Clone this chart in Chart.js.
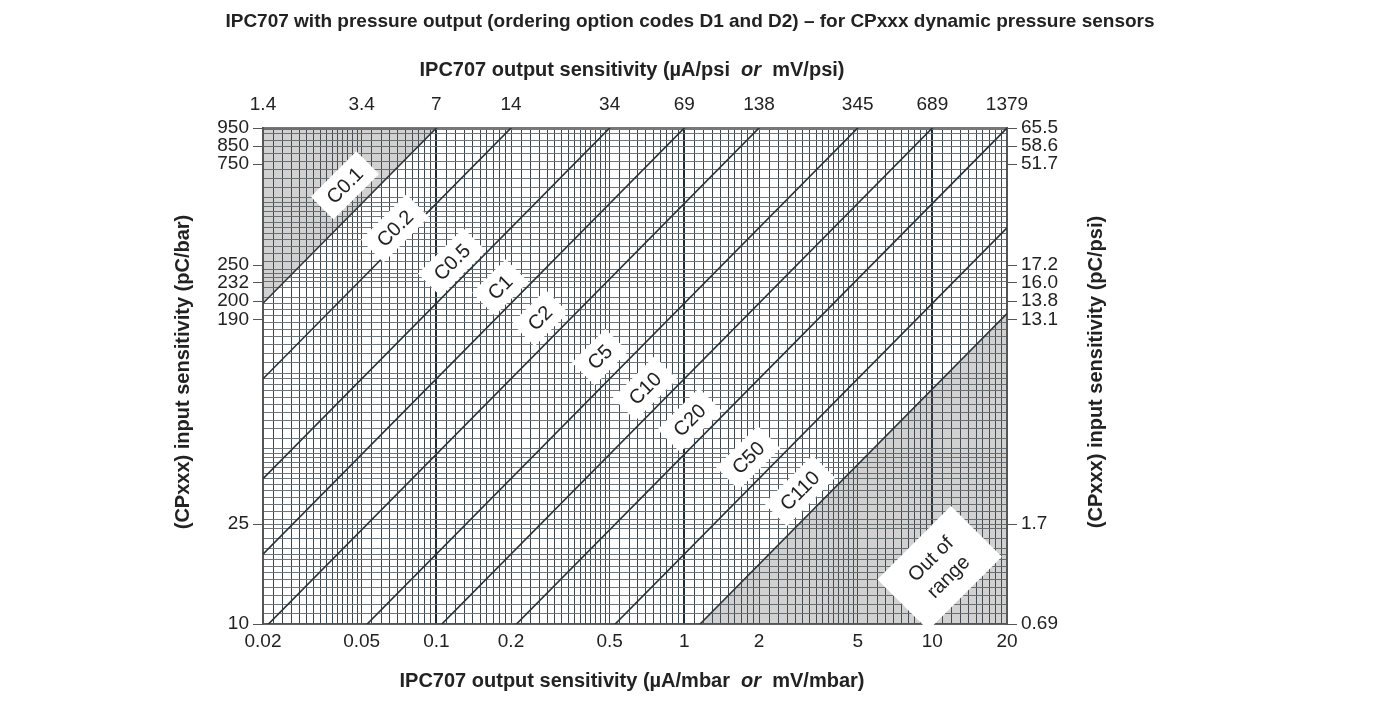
<!DOCTYPE html>
<html><head><meta charset="utf-8">
<script src="https://cdn.jsdelivr.net/npm/chart.js@4"></script>
<style>
body{margin:0;background:#fff;font-family:"Liberation Sans",Arial,sans-serif;}
#title{position:absolute;left:0;top:10px;width:1380px;text-align:center;font-weight:bold;font-size:19px;color:#222;}
#wrap{position:absolute;left:0;top:0;width:1380px;height:710px;}
</style></head><body>
<div id="wrap"><canvas id="c" width="1380" height="710"></canvas></div>
<div id="title">IPC707 with pressure output (ordering option codes D1 and D2) – for CPxxx dynamic pressure sensors</div>
<script>
// bottom / top axis
const xTicks = [0.02, 0.05, 0.1, 0.2, 0.5, 1, 2, 5, 10, 20];
const xTopLabels = ['1.4', '3.4', '7', '14', '34', '69', '138', '345', '689', '1379'];
// left / right axis (labels are spread out in the original, so they sit at yLabelAt)
const yLeftLabels = ['10', '25', '190', '200', '232', '250', '750', '850', '950'];
const yRightLabels = ['0.69', '1.7', '13.1', '13.8', '16.0', '17.2', '51.7', '58.6', '65.5'];
const yLabelAt = [10, 25, 163, 194, 229, 270, 682, 805, 950];
// charge converter ranges
const ranges = ['C0.1', 'C0.2', 'C0.5', 'C1', 'C2', 'C5', 'C10', 'C20', 'C50', 'C110'];
const gains = [0.1, 0.2, 0.5, 1, 2, 5, 10, 20, 50, 110];
const labelX = [0.0428, 0.0681, 0.1156, 0.181, 0.262, 0.457, 0.694, 1.05, 1.81, 2.92];
const labelY = [561, 378, 277, 220, 166, 116, 87, 65, 46, 34];
const outX = 10.7, outY = 16.7;

const XMIN = 0.02, XMAX = 20, YMIN = 10, YMAX = 950;

function denseTicks(lo, hi) {
    const out = [];
    for (let e = -3; e <= 3; e++) {
        const b = Math.pow(10, e);
        for (let v = 1; v < 2 - 1e-9; v += 0.1) out.push(v * b);
        for (let v = 2; v < 5 - 1e-9; v += 0.2) out.push(v * b);
        for (let v = 5; v < 10 - 1e-9; v += 0.5) out.push(v * b);
    }
    return out.filter(v => v >= lo * 0.9999 && v <= hi * 1.0001).map(v => +v.toPrecision(6));
}
const isDecade = v => Math.abs(Math.log10(v) - Math.round(Math.log10(v))) < 1e-6;
const findIdx = (v, arr) => arr.findIndex(a => Math.abs(a - v) / a < 1e-4);

const lineSets = gains.map((g, i) => ({
    label: ranges[i],
    data: [{ x: XMIN, y: XMIN * 950 / g }, { x: XMAX, y: XMAX * 950 / g }],
    borderColor: '#26323a', borderWidth: 1.6, pointRadius: 0, fill: false
}));
const shadeTop = {
    data: [{ x: XMIN, y: XMIN * 950 / gains[0] }, { x: 0.1, y: 0.1 * 950 / gains[0] }],
    borderWidth: 0, pointRadius: 0, fill: 'end', backgroundColor: 'rgba(90,90,90,0.28)'
};
const last = gains[gains.length - 1];
const shadeBottom = {
    data: [{ x: 10 * last / 950, y: 10 }, { x: XMAX, y: XMAX * 950 / last }],
    borderWidth: 0, pointRadius: 0, fill: 'start', backgroundColor: 'rgba(90,90,90,0.28)'
};

const FONT = '"Liberation Sans", Arial, sans-serif';
const TICKFONT = { size: 19, family: FONT };

function drawSegs(ctx, segs, x, y, rot) {
    ctx.save();
    ctx.translate(x, y); ctx.rotate(rot || 0);
    let w = 0;
    segs.forEach(s => { ctx.font = s[1]; w += ctx.measureText(s[0]).width; });
    let cx = -w / 2;
    ctx.textBaseline = 'middle'; ctx.textAlign = 'left'; ctx.fillStyle = '#222';
    segs.forEach(s => { ctx.font = s[1]; ctx.fillText(s[0], cx, 0); cx += ctx.measureText(s[0]).width; });
    ctx.restore();
}

const annot = {
    id: 'annot',
    afterDatasetsDraw(chart) {
        const ctx = chart.ctx, xs = chart.scales.x, ys = chart.scales.yg;
        const ang = -Math.PI / 4;
        ctx.save();
        ctx.font = '20px ' + FONT;
        ranges.forEach((r, i) => {
            const px = xs.getPixelForValue(labelX[i]), py = ys.getPixelForValue(labelY[i]);
            const w = ctx.measureText(r).width + 22;
            ctx.save();
            ctx.translate(px, py); ctx.rotate(ang);
            ctx.fillStyle = '#fff';
            ctx.fillRect(-w / 2, -16, w, 32);
            ctx.fillStyle = '#222'; ctx.textAlign = 'center'; ctx.textBaseline = 'middle';
            ctx.fillText(r, 0, 1);
            ctx.restore();
        });
        const px = xs.getPixelForValue(outX), py = ys.getPixelForValue(outY);
        ctx.save();
        ctx.translate(px, py); ctx.rotate(ang);
        ctx.fillStyle = '#fff'; ctx.fillRect(-52, -36, 104, 72);
        ctx.fillStyle = '#222'; ctx.textAlign = 'center'; ctx.textBaseline = 'middle';
        ctx.fillText('Out of', 0, -12); ctx.fillText('range', 0, 13);
        ctx.restore();
        ctx.restore();
    },
    afterDraw(chart) {
        const ctx = chart.ctx;
        const B = 'bold 20px ' + FONT, I = 'bold italic 20px ' + FONT;
        drawSegs(ctx, [['IPC707 output sensitivity (µA/psi  ', B], ['or', I], ['  mV/psi)', B]], 632, 70);
        drawSegs(ctx, [['IPC707 output sensitivity (µA/mbar  ', B], ['or', I], ['  mV/mbar)', B]], 632, 681);
        drawSegs(ctx, [['(CPxxx) input sensitivity (pC/bar)', B]], 183, 372, -Math.PI / 2);
        drawSegs(ctx, [['(CPxxx) input sensitivity (pC/psi)', B]], 1096, 372, -Math.PI / 2);
    }
};

function labelScale(at, labels, extra) {
    return Object.assign({
        type: 'logarithmic',
        afterBuildTicks: s => { s.ticks = at.map(v => ({ value: v })); },
        ticks: {
            autoSkip: false, maxRotation: 0, color: '#222', font: TICKFONT, padding: 4,
            callback: v => { const k = findIdx(v, at); return k >= 0 ? labels[k] : ''; }
        }
    }, extra);
}

new Chart(document.getElementById('c'), {
    type: 'line',
    data: { datasets: [shadeTop, shadeBottom, ...lineSets].map(d => Object.assign(d, { yAxisID: 'yg' })) },
    options: {
        responsive: false, animation: false, events: [],
        layout: { padding: 0 },
        plugins: { legend: { display: false }, tooltip: { enabled: false } },
        scales: {
            x: {
                type: 'logarithmic', min: XMIN, max: XMAX, position: 'bottom',
                afterBuildTicks: s => { s.ticks = denseTicks(XMIN, XMAX).map(v => ({ value: v })); },
                afterFit: s => { s.height = 86; },
                ticks: {
                    autoSkip: false, maxRotation: 0, color: '#222', font: TICKFONT, padding: 6,
                    callback: v => { const k = findIdx(v, xTicks); return k >= 0 ? String(xTicks[k]) : ''; }
                },
                grid: {
                    color: c => isDecade(c.tick.value) ? '#1f2a31' : '#3c454c',
                    lineWidth: c => isDecade(c.tick.value) ? 2 : 1,
                    tickLength: 0
                },
                border: { color: '#555', width: 1.5 }
            },
            x2: labelScale(xTicks, xTopLabels, {
                min: XMIN, max: XMAX, position: 'top',
                afterFit: s => { s.height = 128; },
                grid: { display: false },
                border: { color: '#777', width: 3 }
            }),
            y: labelScale(yLabelAt, yLeftLabels, {
                min: YMIN, max: YMAX, position: 'left',
                afterFit: s => { s.width = 263; },
                grid: { display: true, drawOnChartArea: false, tickLength: 10, tickColor: '#555' },
                border: { color: '#555', width: 2 }
            }),
            yg: {
                type: 'logarithmic', min: YMIN, max: YMAX, position: 'left',
                afterBuildTicks: s => { s.ticks = denseTicks(YMIN, YMAX).concat([25, 232, 250, 850, 950]).sort((a, b) => a - b).map(v => ({ value: v })); },
                afterFit: s => { s.width = 0; },
                ticks: { display: false },
                grid: { color: '#6f767b', lineWidth: 1, drawTicks: false },
                border: { display: false }
            },
            y2: labelScale(yLabelAt, yRightLabels, {
                min: YMIN, max: YMAX, position: 'right',
                afterFit: s => { s.width = 373; },
                grid: { display: true, drawOnChartArea: false, tickLength: 10, tickColor: '#555' },
                border: { color: '#555', width: 2 }
            })
        }
    },
    plugins: [annot]
});
</script>
</body></html>
